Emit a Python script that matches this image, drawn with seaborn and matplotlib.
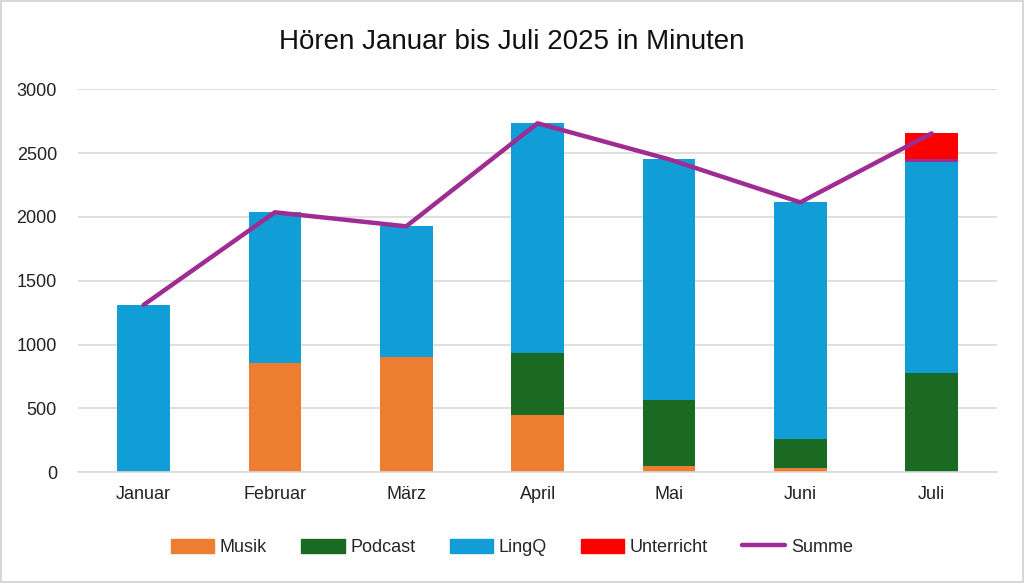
import matplotlib
matplotlib.use("Agg")
import matplotlib.pyplot as plt
from matplotlib.patches import Patch
from matplotlib.lines import Line2D
import numpy as np
import pandas as pd
import seaborn as sns

monate = ["Januar", "Februar", "März", "April", "Mai", "Juni", "Juli"]
musik = [0, 855, 900, 446, 47, 35, 0]
podcast = [0, 0, 0, 486, 517, 223, 775]
lingq = [1310, 1181, 1026, 1801, 1887, 1856, 1652]
sonst = [0, 0, 0, 0, 0, 0, 24]
unterricht = [0, 0, 0, 0, 0, 0, 203]
summe = [1310, 2036, 1926, 2733, 2451, 2114, 2654]

farben = {"Musik": "#ED7D31", "Podcast": "#1B6A23", "LingQ": "#119ED6",
          "Sonst": "#A02B93", "Unterricht": "#FF0000", "Summe": "#A02B93"}

sns.set_theme(style="white")
plt.rcParams["font.family"] = ["Liberation Sans", "DejaVu Sans"]

fig = plt.figure(figsize=(10.24, 5.83), dpi=100)
ax = fig.add_axes([0.076, 0.190, 0.898, 0.657])

# gestapelte Balken: kumulierte Summen von oben nach unten übereinander zeichnen
schichten = [("Musik", musik), ("Podcast", podcast), ("LingQ", lingq),
             ("Sonst", sonst), ("Unterricht", unterricht)]
kum = np.cumsum([np.array(v) for _, v in schichten], axis=0)
for i in range(len(schichten) - 1, -1, -1):
    name = schichten[i][0]
    df = pd.DataFrame({"Monat": monate, "Wert": kum[i]})
    sns.barplot(data=df, x="Monat", y="Wert", color=farben[name], width=0.4,
                saturation=1, linewidth=0, ax=ax, zorder=2)

sns.lineplot(x=np.arange(len(monate)), y=summe, color=farben["Summe"],
             linewidth=3.2, ax=ax, zorder=3, solid_capstyle="round")

ax.set_xlim(-0.5, 6.5)
ax.set_ylim(0, 3000)
ax.set_yticks(np.arange(0, 3001, 500))
ax.yaxis.grid(True, color="#d9d9d9", linewidth=1.2, zorder=0)
ax.set_axisbelow(True)
for s in ["top", "right", "left"]:
    ax.spines[s].set_visible(False)
ax.spines["bottom"].set_color("#d9d9d9")
ax.spines["bottom"].set_linewidth(1.2)
ax.set_xlabel("")
ax.set_ylabel("")
ax.tick_params(axis="both", length=0, labelsize=13, colors="#222222")
ax.tick_params(axis="y", pad=15)
ax.tick_params(axis="x", pad=10)

fig.text(0.5, 0.928, "Hören Januar bis Juli 2025 in Minuten", ha="center",
         va="center", fontsize=20, color="#111111")

handles = [Patch(color=farben["Musik"], label="Musik"),
           Patch(color=farben["Podcast"], label="Podcast"),
           Patch(color=farben["LingQ"], label="LingQ"),
           Patch(color=farben["Unterricht"], label="Unterricht"),
           Line2D([0], [0], color=farben["Summe"], linewidth=3.2, label="Summe")]
fig.legend(handles=handles, loc="center", bbox_to_anchor=(0.5, 0.061), ncol=5,
           frameon=False, handlelength=2.4, handleheight=0.8,
           handletextpad=0.3, columnspacing=1.9,
           prop={"family": ["Liberation Sans Narrow", "Liberation Sans"], "size": 13})

fig.patches.append(plt.Rectangle((0.001, 0.002), 0.998, 0.996, transform=fig.transFigure,
                                 fill=False, edgecolor="#d0d0d0", linewidth=1.2))

fig.savefig("out.png", dpi=100, facecolor="white")
